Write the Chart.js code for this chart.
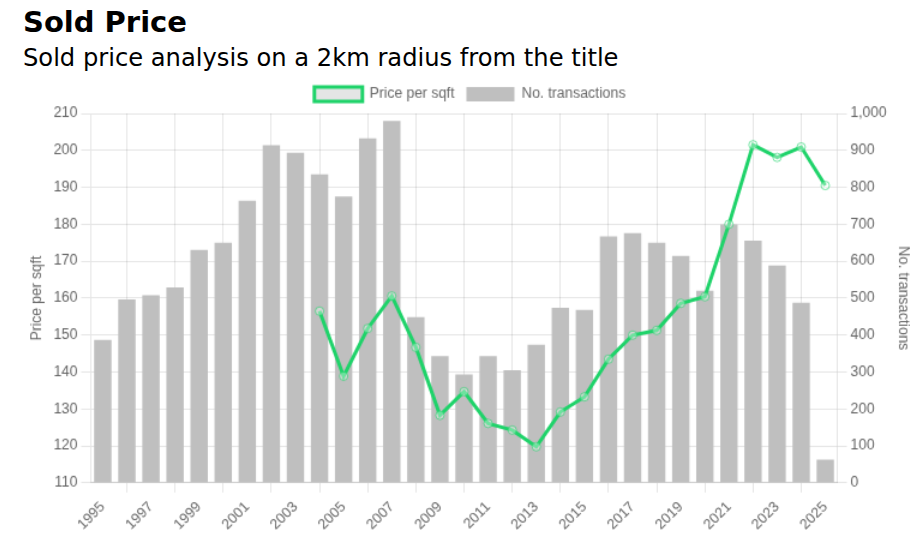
<!DOCTYPE html>
<html lang="en">
<head>
    <meta charset="UTF-8">
    <title>Sold Price</title>
    <script src="https://cdn.jsdelivr.net/npm/chart.js"></script>
    <style>
        * {
            margin: 0;
            padding: 0;
            box-sizing: border-box;
        }
        body {
            width: 924px;
            height: 557px;
            background: #fff;
            font-family: 'DejaVu Sans', sans-serif;
            position: relative;
            overflow: hidden;
        }
        h1 {
            position: absolute;
            left: 23px;
            top: 8px;
            font-size: 29px;
            line-height: 1;
            font-weight: bold;
            color: #000;
        }
        h2 {
            position: absolute;
            left: 23px;
            top: 46px;
            font-size: 24.2px;
            line-height: 1;
            font-weight: normal;
            color: #000;
        }
        /* chart drawn at 1/1.2 size and blown up, like the reference */
        .chart-box {
            position: absolute;
            left: 23px;
            top: 75px;
            width: 745px;
            height: 387px;
            transform: scale(1.2);
            transform-origin: 0 0;
        }
    </style>
</head>
<body>
    <h1>Sold Price</h1>
    <h2>Sold price analysis on a 2km radius from the title</h2>
    <div class="chart-box">
        <canvas id="soldChart"></canvas>
    </div>
    <script>
        // values
        const years = ['1995', '1996', '1997', '1998', '1999', '2000', '2001', '2002', '2003', '2004',
            '2005', '2006', '2007', '2008', '2009', '2010', '2011', '2012', '2013', '2014',
            '2015', '2016', '2017', '2018', '2019', '2020', '2021', '2022', '2023', '2024', '2025'];
        const pricePerSqft = [null, null, null, null, null, null, null, null, null, 156.5,
            138.9, 151.8, 160.6, 146.7, 128.3, 134.7, 126.1, 124.3, 119.8, 129.2,
            133.3, 143.5, 150.0, 151.3, 158.6, 160.4, 180.0, 201.5, 198.1, 200.9, 190.5];
        const transactions = [387, 497, 508, 529, 631, 650, 764, 914, 894, 835,
            775, 933, 980, 449, 343, 294, 343, 305, 374, 474,
            468, 667, 676, 650, 614, 520, 700, 656, 588, 488, 63];

        Chart.defaults.color = '#666';

        function renderChart() {
            var ctx = document.getElementById('soldChart').getContext('2d');
            new Chart(ctx, {
                type: 'bar',
                data: {
                    labels: years,
                    datasets: [{
                        type: 'line',
                        label: 'Price per sqft',
                        data: pricePerSqft,
                        yAxisID: 'y',
                        borderColor: '#1fd36a',
                        backgroundColor: 'rgba(0, 0, 0, 0.1)',
                        borderWidth: 3,
                        pointRadius: 3.5,
                        pointBorderWidth: 1,
                        pointBorderColor: 'rgba(31, 211, 106, 0.6)',
                        pointBackgroundColor: 'rgba(255, 255, 255, 0.35)',
                        tension: 0
                    }, {
                        label: 'No. transactions',
                        data: transactions,
                        yAxisID: 'y1',
                        backgroundColor: '#bfbfbf'
                    }]
                },
                options: {
                    responsive: true,
                    maintainAspectRatio: false,
                    animation: false,
                    devicePixelRatio: 1,
                    scales: {
                        x: {
                            ticks: {
                                minRotation: 45,
                                maxRotation: 45,
                                padding: 5
                            }
                        },
                        y: {
                            position: 'left',
                            min: 110,
                            max: 210,
                            ticks: { stepSize: 10 },
                            title: { display: true, text: 'Price per sqft' }
                        },
                        y1: {
                            position: 'right',
                            min: 0,
                            max: 1000,
                            ticks: { stepSize: 100 },
                            grid: { drawOnChartArea: false },
                            title: { display: true, text: 'No. transactions' }
                        }
                    }
                }
            });
        }
        window.onload = renderChart;
    </script>
</body>
</html>
